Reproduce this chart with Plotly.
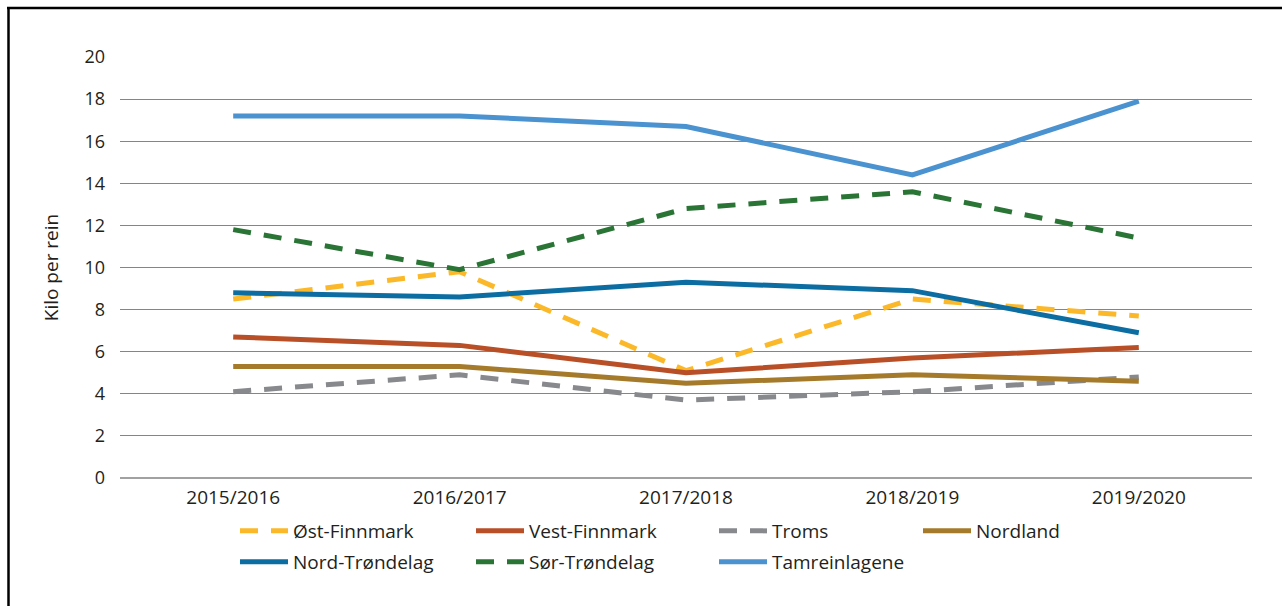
import plotly.graph_objects as go

categories = ["2015/2016", "2016/2017", "2017/2018", "2018/2019", "2019/2020"]

ost_finnmark = [8.5, 9.8, 5.1, 8.5, 7.7]
vest_finnmark = [6.7, 6.3, 5.0, 5.7, 6.2]
troms = [4.1, 4.9, 3.7, 4.1, 4.8]
nordland = [5.3, 5.3, 4.5, 4.9, 4.6]
nord_trondelag = [8.8, 8.6, 9.3, 8.9, 6.9]
sor_trondelag = [11.8, 9.9, 12.8, 13.6, 11.4]
tamreinlagene = [17.2, 17.2, 16.7, 14.4, 17.9]

y_ticks = [0, 2, 4, 6, 8, 10, 12, 14, 16, 18, 20]

series = [
    ("Øst-Finnmark", ost_finnmark, "#FBB829", "18px,13px", "legend"),
    ("Vest-Finnmark", vest_finnmark, "#B84F27", "solid", "legend2"),
    ("Troms", troms, "#88898D", "18px,13px", "legend3"),
    ("Nordland", nordland, "#A57A2A", "solid", "legend4"),
    ("Nord-Trøndelag", nord_trondelag, "#0C6DA2", "solid", "legend5"),
    ("Sør-Trøndelag", sor_trondelag, "#2A7436", "18px,13px", "legend6"),
    ("Tamreinlagene", tamreinlagene, "#4A92D0", "solid", "legend7"),
]

FONT = "Open Sans"
W, H = 1282, 606
L, R, T, B = 120, 30, 57, 128
pw = W - L - R
ph = H - T - B

def px2x(px):
    return (px - L) / pw

def py2y(py):
    return (H - B - py) / ph

fig = go.Figure()
for name, vals, color, dash, lg in series:
    fig.add_trace(go.Scatter(
        x=categories, y=vals, name=name, mode="lines",
        line=dict(color=color, width=5, dash=dash),
        legend=lg,
    ))

legend_pos = {
    "legend": (235, 512),
    "legend2": (471, 512),
    "legend3": (714, 512),
    "legend4": (918, 512),
    "legend5": (235, 543),
    "legend6": (471, 543),
    "legend7": (714, 543),
}

layout_legends = {}
for key, (lx, ly) in legend_pos.items():
    layout_legends[key] = dict(
        x=px2x(lx), y=py2y(ly), xanchor="left", yanchor="top",
        orientation="v", bgcolor="rgba(0,0,0,0)",
        font=dict(family=FONT, size=19, color="#231F20"),
        itemwidth=48,
    )

fig.update_layout(
    width=W, height=H,
    margin=dict(l=L, r=R, t=T, b=B),
    paper_bgcolor="white", plot_bgcolor="white",
    font=dict(family=FONT, size=17, color="#231F20"),
    showlegend=True,
    **layout_legends,
    xaxis=dict(
        type="category", range=[-0.5, 4.5],
        showgrid=False, zeroline=False, showline=False, ticks="",
        tickfont=dict(family=FONT, size=19, color="#231F20"),
        ticklabelstandoff=6,
    ),
    yaxis=dict(
        range=[0, 20], tickvals=y_ticks,
        showgrid=True, gridcolor="#858585", gridwidth=1.2,
        zeroline=False, showline=False, ticks="",
        tickfont=dict(family=FONT, size=18, color="#231F20"),
        ticklabelstandoff=14,
        title=dict(text="Kilo per rein", font=dict(family=FONT, size=19, color="#231F20"), standoff=20),
    ),
    shapes=[
        dict(type="line", xref="paper", yref="paper",
             x0=px2x(8.5), x1=px2x(8.5), y0=py2y(8), y1=py2y(620),
             line=dict(color="black", width=2.5)),
        dict(type="line", xref="paper", yref="paper",
             x0=px2x(7), x1=px2x(1300), y0=py2y(8), y1=py2y(8),
             line=dict(color="black", width=2.5)),
        dict(type="line", xref="paper", yref="paper",
             x0=0, x1=1, y0=0, y1=0, layer="below",
             line=dict(color="#444444", width=1.2)),
    ],
)

fig.write_html(
    "out.html",
    config={"displayModeBar": False},
    post_script="document.body.style.margin='0';document.body.style.overflow='hidden';",
)
